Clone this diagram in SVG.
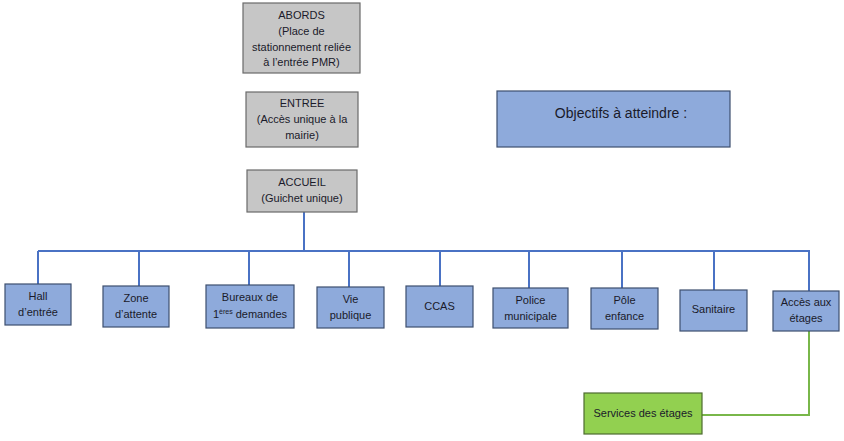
<svg xmlns="http://www.w3.org/2000/svg" width="844" height="441" viewBox="0 0 844 441">
<style>
text{font-family:"Liberation Sans","Open Sans",sans-serif;font-size:11px;fill:#1a1a2a;text-anchor:middle}
.g{fill:#c6c6c6;stroke:#6a6a6a;stroke-width:1.2}
.b{fill:#8eaadb;stroke:#3d4f6e;stroke-width:1.2}
.v{fill:#92d050;stroke:#4e6b30;stroke-width:1.2}
.c{stroke:#4a72c4;stroke-width:2;fill:none}
.cg{stroke:#79b74a;stroke-width:2;fill:none}
</style>
<rect width="844" height="441" fill="#fff"/>
<g id="connectors">
<path class="c" d="M304 212V251M38 251H810M38 251V284M139 251V286M249 251V285M349 251V287M440 251V286M529 251V288M622 251V288M714 251V290M809 251V291"/>
<path class="cg" d="M809 331V415H702"/>
</g>
<g id="abords"><rect class="g" x="243" y="3" width="117" height="70"/>
<text x="301.5" y="19">ABORDS</text><text x="301.5" y="35">(Place de</text><text x="301.5" y="51">stationnement reliée</text><text x="301.5" y="66">à l’entrée PMR)</text></g>
<g id="entree"><rect class="g" x="246" y="92" width="112" height="55"/>
<text x="302" y="107">ENTREE</text><text x="302" y="123">(Accès unique à la</text><text x="302" y="139">mairie)</text></g>
<g id="accueil"><rect class="g" x="247" y="170" width="110" height="42"/>
<text x="302" y="186">ACCUEIL</text><text x="302" y="202">(Guichet unique)</text></g>
<g id="objectifs"><rect class="b" x="497" y="91" width="233" height="56"/>
<text x="621" y="118" style="font-size:14px">Objectifs à atteindre :</text></g>
<g id="hall"><rect class="b" x="5" y="284" width="66" height="41"/>
<text x="38" y="300">Hall</text><text x="38" y="316">d’entrée</text></g>
<g id="zone"><rect class="b" x="103" y="286" width="66" height="41"/>
<text x="136" y="302">Zone</text><text x="136" y="318">d’attente</text></g>
<g id="bureaux"><rect class="b" x="206" y="285" width="88" height="43"/>
<text x="250" y="301">Bureaux de</text><text x="250" y="318">1<tspan dy="-4" style="font-size:7px">ères</tspan><tspan dy="4"> demandes</tspan></text></g>
<g id="vie"><rect class="b" x="317" y="287" width="67" height="41"/>
<text x="350.5" y="303">Vie</text><text x="350.5" y="319">publique</text></g>
<g id="ccas"><rect class="b" x="406" y="286" width="67" height="41"/>
<text x="439.5" y="310">CCAS</text></g>
<g id="police"><rect class="b" x="493" y="288" width="75" height="40"/>
<text x="530.5" y="304">Police</text><text x="530.5" y="320">municipale</text></g>
<g id="pole"><rect class="b" x="591" y="288" width="67" height="41"/>
<text x="624.5" y="304">Pôle</text><text x="624.5" y="320">enfance</text></g>
<g id="sanitaire"><rect class="b" x="680" y="290" width="67" height="41"/>
<text x="713.5" y="313">Sanitaire</text></g>
<g id="acces"><rect class="b" x="773" y="291" width="66" height="40"/>
<text x="806" y="306">Accès aux</text><text x="806" y="322">étages</text></g>
<g id="services"><rect class="v" x="584" y="393" width="118" height="41"/>
<text x="643" y="417">Services des étages</text></g>
</svg>
